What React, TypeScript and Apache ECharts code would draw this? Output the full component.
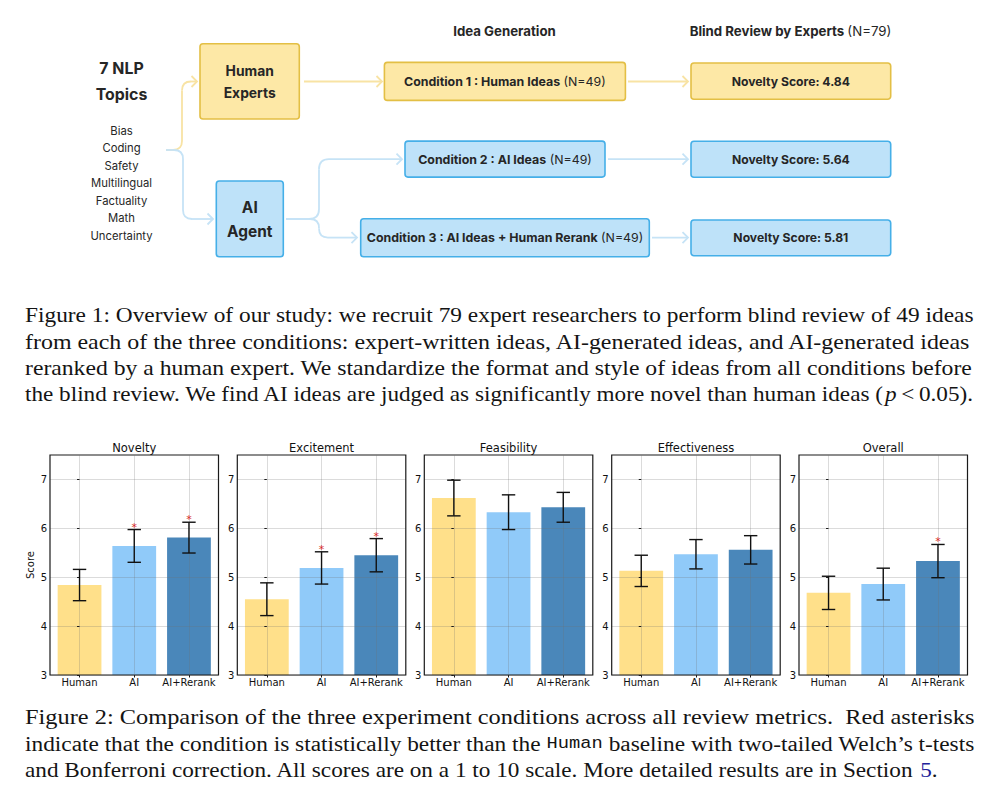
import React, { useEffect, useRef } from 'react';
import * as echarts from 'echarts';

// ---------- data ----------
const metrics = ['Novelty', 'Excitement', 'Feasibility', 'Effectiveness', 'Overall'];
const conditions = ['Human', 'AI', 'AI+Rerank'];
const humanMeans = [4.84, 4.55, 6.62, 5.13, 4.68];
const aiMeans = [5.64, 5.19, 6.33, 5.47, 4.86];
const rerankMeans = [5.81, 5.45, 6.43, 5.56, 5.33];
const humanErr = [0.32, 0.335, 0.365, 0.32, 0.34];
const aiErr = [0.335, 0.33, 0.355, 0.3, 0.325];
const rerankErr = [0.315, 0.34, 0.305, 0.29, 0.34];
const humanSig = [0, 0, 0, 0, 0];
const aiSig = [1, 1, 0, 0, 0];
const rerankSig = [1, 1, 0, 0, 1];
const yTicks = [3, 4, 5, 6, 7];
const xTicks = [0, 1, 2];

const topics = ['Bias', 'Coding', 'Safety', 'Multilingual', 'Factuality', 'Math', 'Uncertainty'];
const conditionNames = ['Condition 1 : Human Ideas', 'Condition 2 : AI Ideas', 'Condition 3 : AI Ideas + Human Rerank'];
const ideaCounts = [49, 49, 49];
const reviewerCount = 79;

type Seg = { t: string; italic?: boolean; mono?: boolean; color?: string };
const caption1: Seg[][] = [
  [{ t: 'Figure 1: Overview of our study: we recruit 79 expert researchers to perform blind review of 49 ideas' }],
  [{ t: 'from each of the three conditions: expert-written ideas, AI-generated ideas, and AI-generated ideas' }],
  [{ t: 'reranked by a human expert. We standardize the format and style of ideas from all conditions before' }],
  [{ t: 'the blind review. We find AI ideas are judged as significantly more novel than human ideas (' }, { t: 'p', italic: true }, { t: '\u2009<\u20090.05).' }],
];
const caption2: Seg[][] = [
  [{ t: 'Figure 2: Comparison of the three experiment conditions across all review metrics.  Red asterisks' }],
  [{ t: 'indicate that the condition is statistically better than the ' }, { t: 'Human', mono: true }, { t: ' baseline with two-tailed Welch\u2019s t-tests' }],
  [{ t: 'and Bonferroni correction. All scores are on a 1 to 10 scale. More detailed results are in Section ' }, { t: '5', color: '#22229a' }, { t: '.' }],
];

// ---------- styling ----------
const barColors = ['#FFE08A', '#90CAF9', '#4A87BA'];
const PANEL_LEFTS = [50, 237.3, 424.3, 611.7, 799];
const PANEL_W = 168.5;
const PANEL_TOP = 455;
const PANEL_H = 220;
const MPL = 'DejaVu Sans';
const SANS = 'Inter';
const SERIF = 'Liberation Serif';
const MONO = 'Liberation Mono';
const TXT = '#262626';
const Y_FILL = '#FDE8A6';
const Y_STROKE = '#E3BF45';
const B_FILL = '#BEE2F9';
const B_STROKE = '#45AFE8';
const Y_LINE = '#F8E3A4';
const B_LINE = '#C6E3F6';
const LW = 1.8;

let ctx: CanvasRenderingContext2D | null = null;
function measure(text: string, size: number, family: string, weight = 'normal', style = 'normal') {
  if (!ctx) ctx = document.createElement('canvas').getContext('2d');
  ctx!.font = `${style} normal ${weight} ${size}px "${family}"`;
  return ctx!.measureText(text).width;
}

type DSeg = { t: string; bold?: boolean };
function fitSize(segs: DSeg[], target: number) {
  let w = 0;
  segs.forEach((s) => (w += measure(s.t, 100, SANS, s.bold ? 'bold' : 'normal')));
  return (100 * target) / w;
}

function diagText(x: number, y: number, segs: DSeg[], size: number, align = 'center') {
  const rich: any = {};
  let str = '';
  segs.forEach((s, i) => {
    rich['s' + i] = { fontFamily: SANS, fontSize: size, fontWeight: s.bold ? 'bold' : 'normal', fill: TXT };
    str += `{s${i}|${s.t}}`;
  });
  return {
    type: 'text',
    x,
    y,
    z: 20,
    style: { text: str, rich, textAlign: align, verticalAlign: 'middle', fill: TXT, fontFamily: SANS, fontSize: size },
  };
}

function lineEl(a: number[], b: number[], color: string) {
  return { type: 'line', z: 10, shape: { x1: a[0], y1: a[1], x2: b[0], y2: b[1] }, style: { stroke: color, lineWidth: LW } };
}

function route(pts: number[][], r: number, color: string) {
  const els: any[] = [];
  let cur = pts[0];
  for (let i = 1; i < pts.length - 1; i++) {
    const p = pts[i], pr = pts[i - 1], nx = pts[i + 1];
    const l1 = Math.hypot(p[0] - pr[0], p[1] - pr[1]);
    const l2 = Math.hypot(nx[0] - p[0], nx[1] - p[1]);
    const d1 = [(p[0] - pr[0]) / l1, (p[1] - pr[1]) / l1];
    const d2 = [(nx[0] - p[0]) / l2, (nx[1] - p[1]) / l2];
    const a = [p[0] - d1[0] * r, p[1] - d1[1] * r];
    const b = [p[0] + d2[0] * r, p[1] + d2[1] * r];
    els.push(lineEl(cur, a, color));
    els.push({
      type: 'bezierCurve',
      z: 10,
      shape: { x1: a[0], y1: a[1], x2: b[0], y2: b[1], cpx1: p[0], cpy1: p[1] },
      style: { stroke: color, lineWidth: LW, fill: 'none' },
    });
    cur = b;
  }
  const end = pts[pts.length - 1];
  els.push(lineEl(cur, end, color));
  els.push({
    type: 'polyline',
    z: 10,
    shape: { points: [[end[0] - 5.5, end[1] - 5.5], [end[0], end[1]], [end[0] - 5.5, end[1] + 5.5]] },
    style: { stroke: color, lineWidth: LW, fill: 'none' },
  });
  return els;
}

function box(x: number, y: number, w: number, h: number, yellow: boolean) {
  return {
    type: 'rect',
    z: 12,
    shape: { x, y, width: w, height: h, r: 3 },
    style: { fill: yellow ? Y_FILL : B_FILL, stroke: yellow ? Y_STROKE : B_STROKE, lineWidth: 1.6 },
  };
}

function captionLine(segs: Seg[], y: number, target: number) {
  const size = 20.5;
  const monoSize = 16.5;
  const rich: any = {};
  let str = '';
  let w = 0;
  segs.forEach((s, i) => {
    const fam = s.mono ? MONO : SERIF;
    const fs = s.mono ? monoSize : size;
    rich['c' + i] = { fontFamily: fam, fontSize: fs, fontStyle: s.italic ? 'italic' : 'normal', fill: s.color || '#141414' };
    str += `{c${i}|${s.t}}`;
    w += measure(s.t, fs, fam, 'normal', s.italic ? 'italic' : 'normal');
  });
  return {
    type: 'text',
    x: 25,
    y,
    scaleX: target / w,
    z: 20,
    style: { text: str, rich, textAlign: 'left', verticalAlign: 'middle', fill: '#141414', fontFamily: SERIF, fontSize: size },
  };
}

function buildOption() {
  const means = [humanMeans, aiMeans, rerankMeans];
  const errs = [humanErr, aiErr, rerankErr];
  const sigs = [humanSig, aiSig, rerankSig];

  const grid = metrics.map((m, i) => ({
    left: PANEL_LEFTS[i],
    top: PANEL_TOP,
    width: PANEL_W,
    height: PANEL_H,
    show: true,
    z: 4,
    borderColor: '#1a1a1a',
    borderWidth: 1.2,
    backgroundColor: 'transparent',
  }));

  const xAxis = metrics.map((m, i) => ({
    type: 'value',
    gridIndex: i,
    min: -0.54,
    max: 2.54,
    axisLine: { show: false },
    splitLine: { show: false },
    axisTick: { show: true, customValues: xTicks, length: 2.5, lineStyle: { color: '#1a1a1a' } },
    axisLabel: {
      customValues: xTicks,
      formatter: (v: number) => conditions[Math.round(v)] ?? '',
      fontFamily: MPL,
      fontSize: 10,
      color: '#111',
      margin: 2.5,
    },
  }));

  const yAxis = metrics.map((m, i) => ({
    type: 'value',
    gridIndex: i,
    min: 3,
    max: 7.5,
    interval: 1,
    z: 3,
    name: i === 0 ? 'Score' : '',
    nameLocation: 'middle',
    nameGap: 15,
    nameTextStyle: { fontFamily: MPL, fontSize: 10, color: '#111' },
    axisLine: { show: false },
    axisTick: { show: true, customValues: yTicks, length: 2.5, lineStyle: { color: '#1a1a1a' } },
    axisLabel: { customValues: yTicks, fontFamily: MPL, fontSize: 10, color: '#111', margin: 3 },
    splitLine: { show: true, lineStyle: { color: 'rgba(110,110,110,0.25)', width: 1 } },
  }));

  const series: any[] = [];
  metrics.forEach((m, i) => {
    series.push({
      type: 'bar',
      xAxisIndex: i,
      yAxisIndex: i,
      barWidth: '80%',
      z: 2,
      data: conditions.map((c, j) => ({ value: [j, means[j][i]], itemStyle: { color: barColors[j] } })),
      markLine: {
        silent: true,
        symbol: 'none',
        label: { show: false },
        lineStyle: { color: 'rgba(110,110,110,0.25)', width: 1, type: 'solid' },
        data: xTicks.map((v) => ({ xAxis: v })),
      },
    });
    series.push({
      type: 'custom',
      xAxisIndex: i,
      yAxisIndex: i,
      z: 6,
      encode: { x: 0, y: [1, 2] },
      data: conditions.map((c, j) => [j, means[j][i] - errs[j][i], means[j][i] + errs[j][i], sigs[j][i]]),
      renderItem: (params: any, api: any) => {
        const x = api.value(0);
        const top = api.coord([x, api.value(2)]);
        const bot = api.coord([x, api.value(1)]);
        const w = 6.7;
        const st = { stroke: '#111', lineWidth: 1.4 };
        const children: any[] = [
          { type: 'line', shape: { x1: top[0], y1: top[1], x2: bot[0], y2: bot[1] }, style: st },
          { type: 'line', shape: { x1: top[0] - w, y1: top[1], x2: top[0] + w, y2: top[1] }, style: st },
          { type: 'line', shape: { x1: bot[0] - w, y1: bot[1], x2: bot[0] + w, y2: bot[1] }, style: st },
        ];
        if (api.value(3)) {
          children.push({
            type: 'text',
            x: top[0],
            y: top[1] - 2.5,
            style: { text: '*', fill: '#d62728', fontSize: 11, fontFamily: MPL, textAlign: 'center', verticalAlign: 'middle' },
          });
        }
        return { type: 'group', children };
      },
    });
  });

  // ---------- diagram ----------
  const g: any[] = [];
  metrics.forEach((m, i) => {
    g.push({
      type: 'text',
      x: PANEL_LEFTS[i] + PANEL_W / 2,
      y: 448,
      z: 20,
      style: { text: m, fontFamily: MPL, fontSize: 11.5, fill: '#111', textAlign: 'center', verticalAlign: 'middle' },
    });
  });

  const hSize = fitSize([{ t: 'Idea Generation', bold: true }], 102.7);
  g.push(diagText(504.5, 30.7, [{ t: 'Idea Generation', bold: true }], hSize));
  g.push(diagText(790.5, 30.7, [{ t: 'Blind Review by Experts ', bold: true }, { t: `(N=${reviewerCount})` }], hSize));

  const tSize = fitSize([{ t: 'Topics', bold: true }], 51.7);
  g.push(diagText(121.5, 68.3, [{ t: `${topics.length} NLP`, bold: true }], tSize));
  g.push(diagText(121.5, 94.3, [{ t: 'Topics', bold: true }], tSize));
  const lSize = fitSize([{ t: 'Multilingual' }], 61);
  topics.forEach((t, i) => g.push(diagText(121.5, 130.7 + 17.55 * i, [{ t }], lSize)));

  g.push(...route([[166, 150], [182, 150], [182, 81.5], [197, 81.5]], 9, Y_LINE));
  g.push(...route([[166, 150], [183, 150], [183, 219], [213, 219]], 9, B_LINE));
  g.push(...route([[304, 81.5], [382, 81.5]], 0, Y_LINE));
  g.push(...route([[286, 219], [319, 219], [319, 159.2], [402, 159.2]], 10, B_LINE));
  g.push(...route([[286, 219], [319, 219], [319, 237.6], [357, 237.6]], 9, B_LINE));
  g.push(...route([[628, 81.5], [688, 81.5]], 0, Y_LINE));
  g.push(...route([[608, 159.2], [688, 159.2]], 0, B_LINE));
  g.push(...route([[652, 237.6], [688, 237.6]], 0, B_LINE));

  g.push(box(200, 43.7, 99.3, 75.3, true));
  g.push(box(216.3, 181, 67, 75.7, false));
  const heSize = fitSize([{ t: 'Experts', bold: true }], 52);
  g.push(diagText(249.7, 71, [{ t: 'Human', bold: true }], heSize));
  g.push(diagText(249.7, 92.7, [{ t: 'Experts', bold: true }], heSize));
  const aaSize = fitSize([{ t: 'Agent', bold: true }], 45.4);
  g.push(diagText(249.8, 207.3, [{ t: 'AI', bold: true }], aaSize));
  g.push(diagText(249.8, 231, [{ t: 'Agent', bold: true }], aaSize));

  const condBoxes = [
    [384.4, 62.4, 241, 38, 1],
    [405, 141.1, 200, 36, 0],
    [360.7, 218.7, 288.6, 38, 0],
  ];
  const cSize = fitSize([{ t: conditionNames[0], bold: true }, { t: ` (N=${ideaCounts[0]})` }], 202);
  condBoxes.forEach((b, k) => {
    g.push(box(b[0], b[1], b[2], b[3], b[4] === 1));
    g.push(diagText(b[0] + b[2] / 2, b[1] + b[3] / 2, [{ t: conditionNames[k], bold: true }, { t: ` (N=${ideaCounts[k]})` }], cSize));
  });

  const scores = [humanMeans[0], aiMeans[0], rerankMeans[0]];
  const novBoxes = [
    [691, 63, 199.7, 36.3, 1],
    [691, 141.3, 199.7, 36, 0],
    [691, 220, 199.7, 35.7, 0],
  ];
  const nSize = fitSize([{ t: 'Novelty Score: 4.84', bold: true }], 118.3);
  novBoxes.forEach((b, k) => {
    g.push(box(b[0], b[1], b[2], b[3], b[4] === 1));
    g.push(diagText(b[0] + b[2] / 2, b[1] + b[3] / 2, [{ t: `Novelty Score: ${scores[k].toFixed(2)}`, bold: true }], nSize));
  });

  const c1y = [322.5, 348.7, 374.9, 401.1];
  caption1.forEach((segs, i) => g.push(captionLine(segs, c1y[i] - 7, 948.3)));
  const c2y = [724, 750.5, 776.5];
  const c2w = [950, 950, 912.7];
  caption2.forEach((segs, i) => g.push(captionLine(segs, c2y[i] - 7, c2w[i])));

  return {
    animation: false,
    backgroundColor: '#ffffff',
    grid,
    xAxis,
    yAxis,
    series,
    graphic: { elements: g },
  };
}

export default function App() {
  const ref = useRef<HTMLDivElement>(null);
  useEffect(() => {
    const chart = echarts.init(ref.current!, null, { renderer: 'svg' });
    chart.setOption(buildOption() as any);
    return () => chart.dispose();
  }, []);
  return <div ref={ref} style={{ position: 'absolute', left: 0, top: 0, width: 1007, height: 798, background: '#fff' }} />;
}
